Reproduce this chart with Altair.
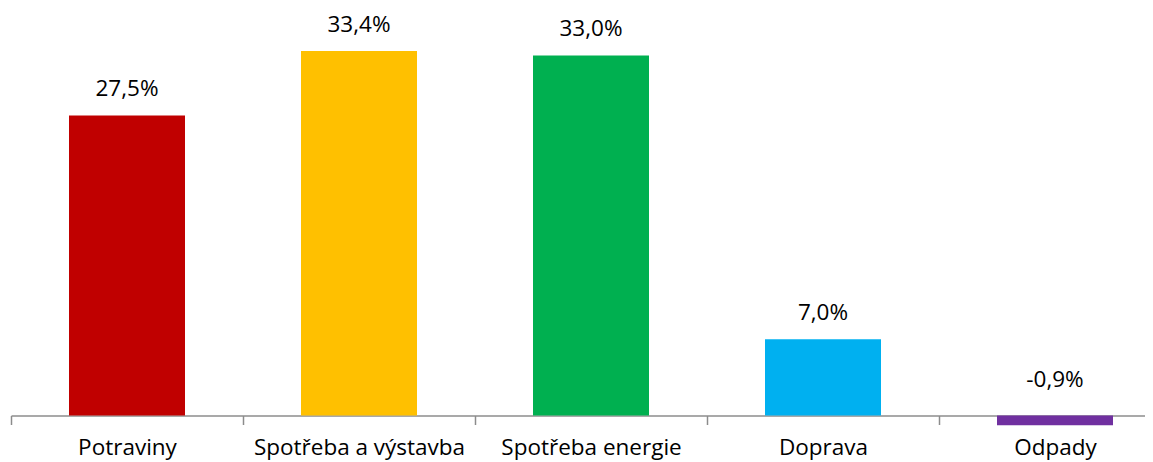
import altair as alt
import pandas as pd

categories = ["Potraviny", "Spotřeba a výstavba", "Spotřeba energie", "Doprava", "Odpady"]
values = [27.5, 33.4, 33.0, 7.0, -0.9]
colors = ["#C00000", "#FFC000", "#00B050", "#00B0F0", "#7030A0"]

df = pd.DataFrame({"cat": categories, "v": values})

FONT = "Open Sans"
FS = 22.5

x = alt.X(
    "cat:N",
    sort=categories,
    scale=alt.Scale(range=[0, 1160], paddingInner=0, paddingOuter=0),
    axis=alt.Axis(
        title=None,
        labelAngle=0,
        labelFont=FONT,
        labelFontSize=FS,
        labelColor="#000000",
        labelPadding=12,
        labelLimit=400,
        tickBand="extent",
        tickSize=9,
        tickColor="#8C8C8C",
        tickWidth=1.5,
        domainColor="#8C8C8C",
        domainWidth=1.5,
        offset=-22.5,
        grid=False,
    ),
)

y_scale = alt.Scale(domain=[-2.06, 37.35], nice=False, zero=False)

base = alt.Chart(df)

bars = base.mark_bar(width=alt.RelativeBandSize(0.5)).encode(
    x=x,
    y=alt.Y("v:Q", scale=y_scale, axis=None),
    y2=alt.Y2(datum=0),
    color=alt.Color("cat:N", scale=alt.Scale(domain=categories, range=colors), legend=None),
)

labels = base.transform_calculate(
    ly="abs(datum.v)",
    txt="replace(replace(format(datum.v, '.1f'), '.', ','), '\u2212', '-') + '%'",
).mark_text(font=FONT, fontSize=FS, color="#000000", baseline="alphabetic", dy=-19).encode(
    x=x,
    y=alt.Y("ly:Q", scale=y_scale, axis=None),
    text="txt:N",
)

chart = (
    alt.layer(bars, labels)
    .properties(width=1134, height=430, autosize=alt.AutoSizeParams(type="none"),
                padding={"left": 3, "top": 0, "right": 0, "bottom": 24},
                background="white")
    .configure_view(strokeWidth=0, stroke="transparent")
)

chart.save("out.html", embed_options={"renderer": "svg", "actions": False})
